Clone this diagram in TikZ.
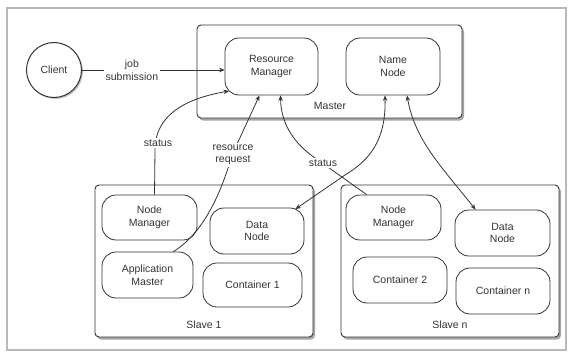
\documentclass[tikz,border=0pt]{standalone}
\usepackage{fontspec}
\setmainfont{Liberation Sans}
\usetikzlibrary{arrows.meta,shadows,calc}
\definecolor{ink}{HTML}{333333}
\tikzset{
  every node/.style={font=\fontsize{10.5}{12.5}\selectfont, text=ink},
  bigbox/.style={draw=ink, line width=0.9pt, rounded corners=4pt, fill=white,
     drop shadow={shadow xshift=2pt, shadow yshift=-2.5pt, fill=black, opacity=0.35}},
  pill/.style={draw=ink, line width=0.8pt, rounded corners=14pt, fill=white, align=center, inner sep=0pt},
  lbl/.style={fill=white, align=center, inner sep=1.5pt},
  conn/.style={draw=ink, line width=0.8pt},
  tip/.style={-{Stealth[length=5.5pt,width=4.5pt]}},
  tips/.style={{Stealth[length=5.5pt,width=4.5pt]}-{Stealth[length=5.5pt,width=4.5pt]}},
}
\begin{document}
\begin{tikzpicture}[x=1pt,y=-1pt]
\useasboundingbox (0,0) rectangle (576,356);
\fill[white] (0,0) rectangle (576,356);
\draw[gray!55, line width=1.2pt] (7,8) rectangle (566,350);

% client
\node[circle, draw=ink, line width=1pt, fill=white, minimum size=55pt, inner sep=0pt,
      drop shadow={shadow xshift=1.5pt, shadow yshift=-1.5pt, fill=black, opacity=0.25}] (client) at (54,70) {Client};

% master
\node[bigbox, minimum width=265pt, minimum height=93pt] (master) at (329.5,71.5) {};
\node (masterlbl) at (330,106) {Master};
\node[pill, minimum width=93pt, minimum height=57pt] (rm) at (271.5,66.5) {Resource\\Manager};
\node[pill, minimum width=94pt, minimum height=57pt] (nn) at (393,66.5) {Name\\Node};

% slave 1
\node[bigbox, minimum width=218pt, minimum height=152pt] (s1) at (204,261) {};
\node (s1lbl) at (204,325) {Slave 1};
\node[pill, minimum width=95pt, minimum height=45pt] (nm1) at (149.5,217.5) {Node\\Manager};
\node[pill, minimum width=94pt, minimum height=46pt] (dn1) at (257,231) {Data\\Node};
\node[pill, minimum width=91pt, minimum height=46pt] (am1) at (147.5,275) {Application\\Master};
\node[pill, minimum width=99pt, minimum height=44pt] (c1) at (252.5,285) {Container 1};

% slave n
\node[bigbox, minimum width=218pt, minimum height=152pt] (sn) at (450,261) {};
\node (snlbl) at (450,325) {Slave n};
\node[pill, minimum width=95pt, minimum height=45pt] (nmn) at (393.5,217.5) {Node\\Manager};
\node[pill, minimum width=95pt, minimum height=46pt] (dnn) at (502.5,233) {Data\\Node};
\node[pill, minimum width=94pt, minimum height=46pt] (c2) at (400,280) {Container 2};
\node[pill, minimum width=94pt, minimum height=46pt] (cn) at (503,291) {Container n};

% connectors
\draw[conn, tip] (client.east) -- node[lbl, pos=0.35] {job\\submission} (client.east -| rm.west);

\coordinate (rmsw) at ($(rm.south west)+(4.4,-4.4)$);
\draw[conn, tip] ($(nm1.north)+(5,0)$) -- (155,150) .. controls (155,110) and (195,97) .. (rmsw);
\node[lbl] (st1) at (158,143) {status};

\coordinate (am1pt) at ($(am1.north east)+(-20,0)$);
\draw[conn, tip] (am1pt) .. controls (205,232) and (222,190) .. (232,155) -- ($(rm.south)+(-12,0)$);
\node[lbl] (rr) at (233,155) {resource\\request};

\coordinate (nmnpt) at ($(nmn.north west)+(21,0)$);
\draw[conn, tip] (nmnpt) -- (318,160) .. controls (295,145) and (281,125) .. ($(rm.south)+(9,0)$);
\node[lbl] (st2) at (323,163) {status};

\draw[conn, tips] ($(nn.south)+(-8,0)$) .. controls (386,140) and (370,160) .. (345,175) -- ($(dn1.north east)+(-9,1.5)$);
\draw[conn, tips] ($(nn.south)+(14,0)$) .. controls (415,140) and (440,165) .. ($(dnn.north west)+(21,0)$);
\end{tikzpicture}
\end{document}
